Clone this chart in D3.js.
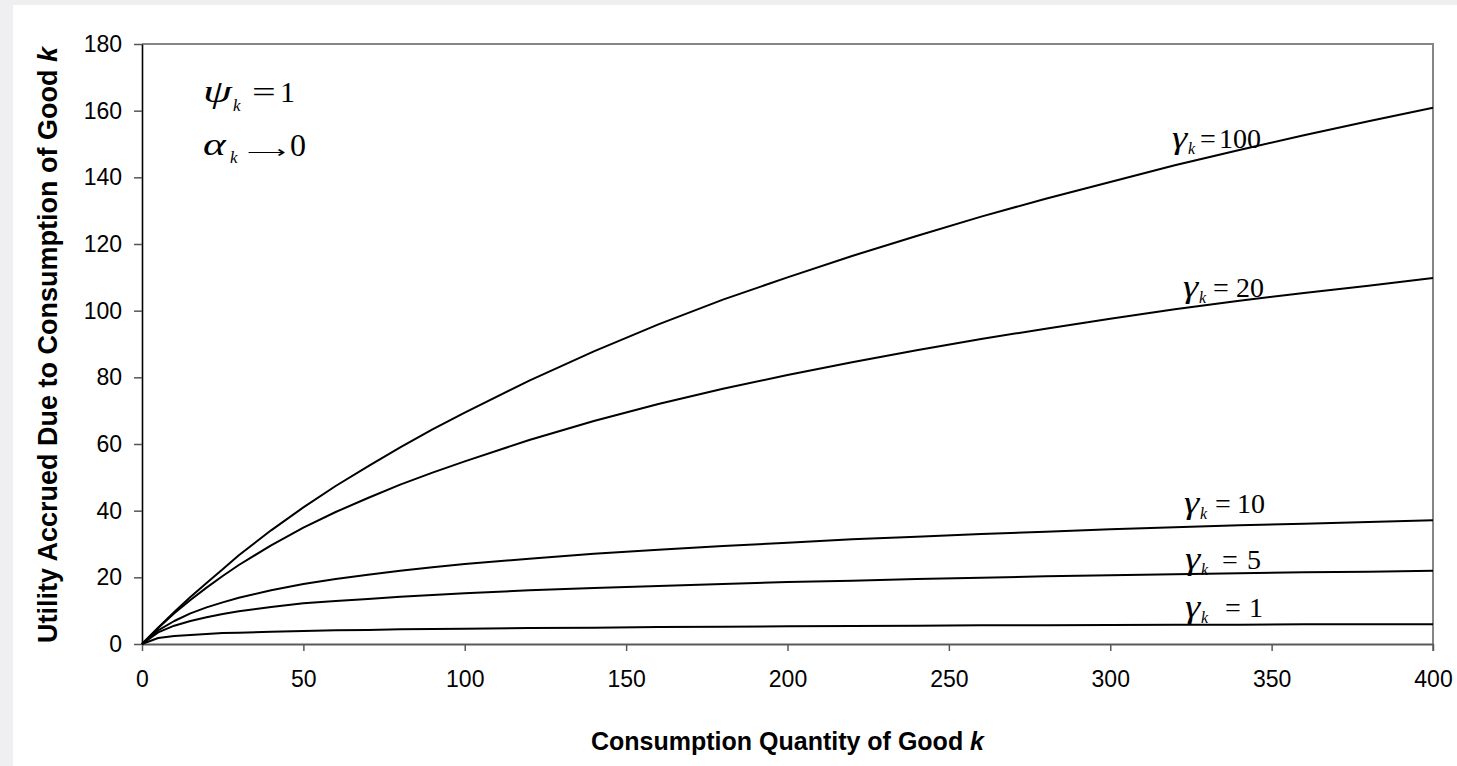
<!DOCTYPE html>
<html>
<head>
<meta charset="utf-8">
<title>Utility vs consumption</title>
<script src="https://cdnjs.cloudflare.com/ajax/libs/d3/7.8.5/d3.min.js"></script>
<style>
  body { margin: 0; background: #efeff1; }
  svg { display: block; }
  .tick text { font-family: "Liberation Sans", Arial, sans-serif; fill: #000; }
  .math { font-family: "Liberation Serif", "Times New Roman", serif; fill: #000; }
</style>
</head>
<body>
<svg id="chart"></svg>
<script>
// consumption quantity of good k (x)
var consumption = [0, 5, 10, 15, 20, 25, 30, 40, 50, 60, 70, 80, 90, 100, 120, 140, 160, 180, 200, 220, 240, 260, 280, 300, 320, 340, 360, 380, 400]

// utility, one array per gamma curve
var util100 = [0, 4.9, 9.6, 14.1, 18.3, 22.4, 26.6, 34.1, 41.0, 47.4, 53.3, 59.0, 64.4, 69.4, 79.0, 87.8, 95.9, 103.3, 110.0, 116.4, 122.4, 128.2, 133.6, 138.6, 143.6, 148.2, 152.6, 156.8, 160.9]
var util20 = [0, 4.8, 9.2, 13.2, 16.9, 20.4, 23.7, 29.6, 34.9, 39.6, 43.8, 47.8, 51.4, 54.8, 61.2, 66.9, 72.0, 76.6, 80.7, 84.5, 88.1, 91.5, 94.6, 97.6, 100.4, 103.0, 105.3, 107.5, 109.8]
var util10 = [0, 4.1, 6.9, 9.2, 11.0, 12.5, 13.9, 16.1, 18.0, 19.5, 20.8, 22.0, 23.0, 24.0, 25.6, 27.1, 28.3, 29.4, 30.4, 31.4, 32.2, 33.0, 33.7, 34.4, 35.0, 35.6, 36.1, 36.6, 37.1]
var util5 = [0, 3.5, 5.5, 6.9, 8.0, 9.0, 9.8, 11.1, 12.2, 12.9, 13.5, 14.2, 14.7, 15.2, 16.1, 16.8, 17.4, 18.0, 18.6, 19.0, 19.5, 19.9, 20.3, 20.6, 20.9, 21.2, 21.5, 21.7, 22.0]
var util1 = [0, 1.8, 2.4, 2.7, 3.0, 3.3, 3.4, 3.7, 3.9, 4.1, 4.2, 4.4, 4.5, 4.6, 4.8, 4.9, 5.1, 5.2, 5.3, 5.4, 5.5, 5.6, 5.6, 5.7, 5.8, 5.8, 5.9, 5.9, 5.9]

var gammaValues = ['100', '20', '10', '5', '1']
var seriesList = [util100, util20, util10, util5, util1]

var xTicks = [0, 50, 100, 150, 200, 250, 300, 350, 400]
var yTicks = [0, 20, 40, 60, 80, 100, 120, 140, 160, 180]

var W = 1457, H = 766
// note: can't call it "top", window.top is read-only
var plotL = 142, plotR = 1433, plotT = 44, plotB = 644

var svg = d3.select('#chart').attr('width', W).attr('height', H)

svg.append('rect')
    .attr('x', 13).attr('y', 5)
    .attr('width', W - 13).attr('height', H - 5)
    .attr('fill', '#fff')

var x = d3.scaleLinear().domain([0, 400]).range([plotL, plotR])
var y = d3.scaleLinear().domain([0, 180]).range([plotB, plotT])

// frame: top + right in gray
svg.append('line')
    .attr('x1', plotL).attr('x2', plotR)
    .attr('y1', plotT).attr('y2', plotT)
    .attr('stroke', '#868686').attr('stroke-width', 2)
svg.append('line')
    .attr('x1', plotR).attr('x2', plotR)
    .attr('y1', plotT - 1).attr('y2', plotB + 7)
    .attr('stroke', '#868686').attr('stroke-width', 2)

// axes
var xAxis = svg.append('g')
    .attr('transform', `translate(0,${plotB})`)
    .call(d3.axisBottom(x).tickValues(xTicks).tickSize(7).tickPadding(20).tickSizeOuter(0))
xAxis.select('.domain').attr('stroke', '#5a5a5a').attr('stroke-width', 2)
xAxis.selectAll('.tick line').attr('stroke', '#5a5a5a').attr('stroke-width', 1.5)
xAxis.selectAll('.tick text').style('font-size', '23px')

var yAxis = svg.append('g')
    .attr('transform', `translate(${plotL},0)`)
    .call(d3.axisLeft(y).tickValues(yTicks).tickSize(8).tickPadding(12).tickSizeOuter(0))
yAxis.select('.domain').attr('stroke', '#000').attr('stroke-width', 1.6)
yAxis.selectAll('.tick line').attr('stroke', '#555').attr('stroke-width', 1.5)
yAxis.selectAll('.tick text').style('font-size', '23px')

// axis titles
var xt = svg.append('text')
    .attr('x', (plotL + plotR) / 2).attr('y', 750)
    .attr('text-anchor', 'middle')
    .style('font', 'bold 25px "Liberation Sans", Arial, sans-serif')
xt.append('tspan').text('Consumption Quantity of Good ')
xt.append('tspan').style('font-style', 'italic').text('k')

var yt = svg.append('text')
    .attr('transform', `translate(57,${(plotT + plotB) / 2 + 1}) rotate(-90)`)
    .attr('text-anchor', 'middle')
    .style('font', 'bold 27px "Liberation Sans", Arial, sans-serif')
yt.append('tspan').text('Utility Accrued Due to Consumption of Good ')
yt.append('tspan').style('font-style', 'italic').text('k')

// curves
var line = d3.line()
    .x(function (d, i) { return x(consumption[i]) })
    .y(function (d) { return y(d) })

svg.append('g').selectAll('path')
    .data(seriesList)
    .join('path')
    .attr('d', line)
    .attr('fill', 'none')
    .attr('stroke', '#000')
    .attr('stroke-width', 2)
    .attr('stroke-linejoin', 'round')

// one piece of an equation; sx widens the glyph like the Symbol font does
function mathText(px, py, str, size, italic, sx) {
    return svg.append('text')
        .attr('class', 'math')
        .attr('transform', `translate(${px},${py}) scale(${sx || 1},1)`)
        .style('font-size', size + 'px')
        .style('font-style', italic ? 'italic' : 'normal')
        .text(str)
}

// curve labels (gamma_k = value)
var labelPos = [
    { x: 1172, y: 148, eq: 1200, num: 1219 },
    { x: 1183, y: 297, eq: 1213, num: 1236 },
    { x: 1184, y: 513, eq: 1215, num: 1237 },
    { x: 1185, y: 569, eq: 1222, num: 1247 },
    { x: 1185, y: 617, eq: 1225, num: 1249 }
]

gammaValues.forEach(function (g, i) {
    var p = labelPos[i]
    mathText(p.x, p.y, 'γ', 31, true, 1.25)
    mathText(p.x + 16, p.y + 6, 'k', 16, true)
    mathText(p.eq, p.y, '=', 28, false)
    mathText(p.num, p.y, g, 28, false)
})

// parameter note, top left
mathText(203, 102, 'ψ', 31, true, 1.5)
mathText(233, 111, 'k', 17, true)
mathText(252, 102, '=', 30, false, 1.4)
mathText(280, 102, '1', 30, false)

mathText(203, 155, 'α', 32, true, 1.35)
mathText(230, 163, 'k', 17, true)
svg.append('text').attr('class', 'math')
    .attr('x', 247).attr('y', 157)
    .style('font-size', '16px')
    .attr('textLength', 39).attr('lengthAdjust', 'spacingAndGlyphs')
    .text('⟶')
mathText(290, 156, '0', 32, false)
</script>
</body>
</html>
